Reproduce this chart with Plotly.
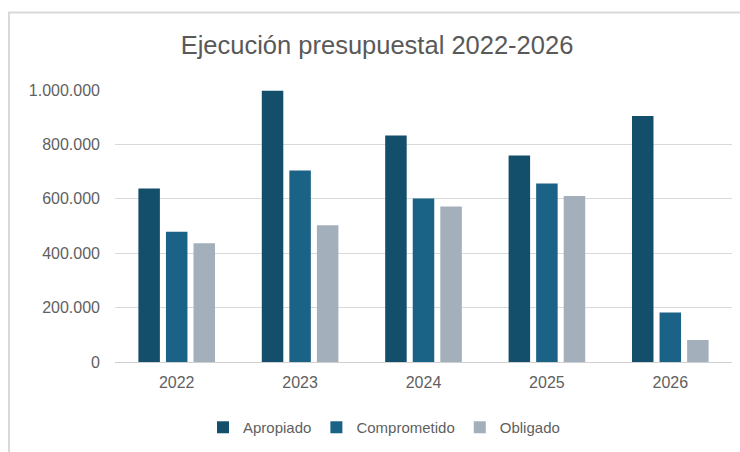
import plotly.graph_objects as go

years = ["2022", "2023", "2024", "2025", "2026"]
apropiado = [638000, 997000, 833000, 759000, 904000]
comprometido = [479000, 704000, 601000, 656000, 182000]
obligado = [437000, 503000, 572000, 610000, 81000]

series = [
    ("Apropiado", apropiado, "#134E6B"),
    ("Comprometido", comprometido, "#1B6386"),
    ("Obligado", obligado, "#A3AFBA"),
]

fig = go.Figure()
for name, vals, col in series:
    fig.add_trace(go.Bar(x=years, y=vals, name=name, marker=dict(color=col, line=dict(width=0))))

fig.update_layout(
    width=740, height=452,
    paper_bgcolor="white", plot_bgcolor="white",
    margin=dict(l=115, r=8, t=90, b=88),
    barmode="group", bargap=0.33, bargroupgap=0.22,
    separators=",.",
    font=dict(family="Liberation Sans, Arial, sans-serif", size=16, color="#5F5F5F"),
    title=dict(text="Ejecución presupuestal 2022-2026", x=377 / 740, xanchor="center",
               y=1 - 45 / 452, yanchor="middle",
               font=dict(family="Liberation Sans, Arial, sans-serif", size=25.5, color="#595959")),
    legend=dict(orientation="h", x=(384 - 115) / 617, xanchor="center",
                y=(364 - 430) / 274, yanchor="middle",
                font=dict(size=15, color="#5F5F5F"), itemwidth=30, traceorder="normal"),
    showlegend=True,
)
fig.update_yaxes(range=[0, 1000000], dtick=200000, tickformat=",d", showgrid=True,
                 gridcolor="#D9D9D9", gridwidth=1.3, zeroline=True, zerolinecolor="#D0D0D0",
                 zerolinewidth=1.3, ticks="", ticklabelstandoff=14, showline=False)
fig.update_xaxes(showgrid=False, showline=False, ticks="", ticklabelstandoff=9)

fig.add_shape(type="rect", xref="paper", yref="paper",
              x0=(9 - 115) / 617, x1=1.05, y0=-0.5, y1=(364 - 12) / 274,
              line=dict(color="#D9D9D9", width=2), fillcolor="rgba(0,0,0,0)", layer="below")

fig.write_html("out.html", config={"displayModeBar": False},
               post_script="document.body.style.margin='0';")
